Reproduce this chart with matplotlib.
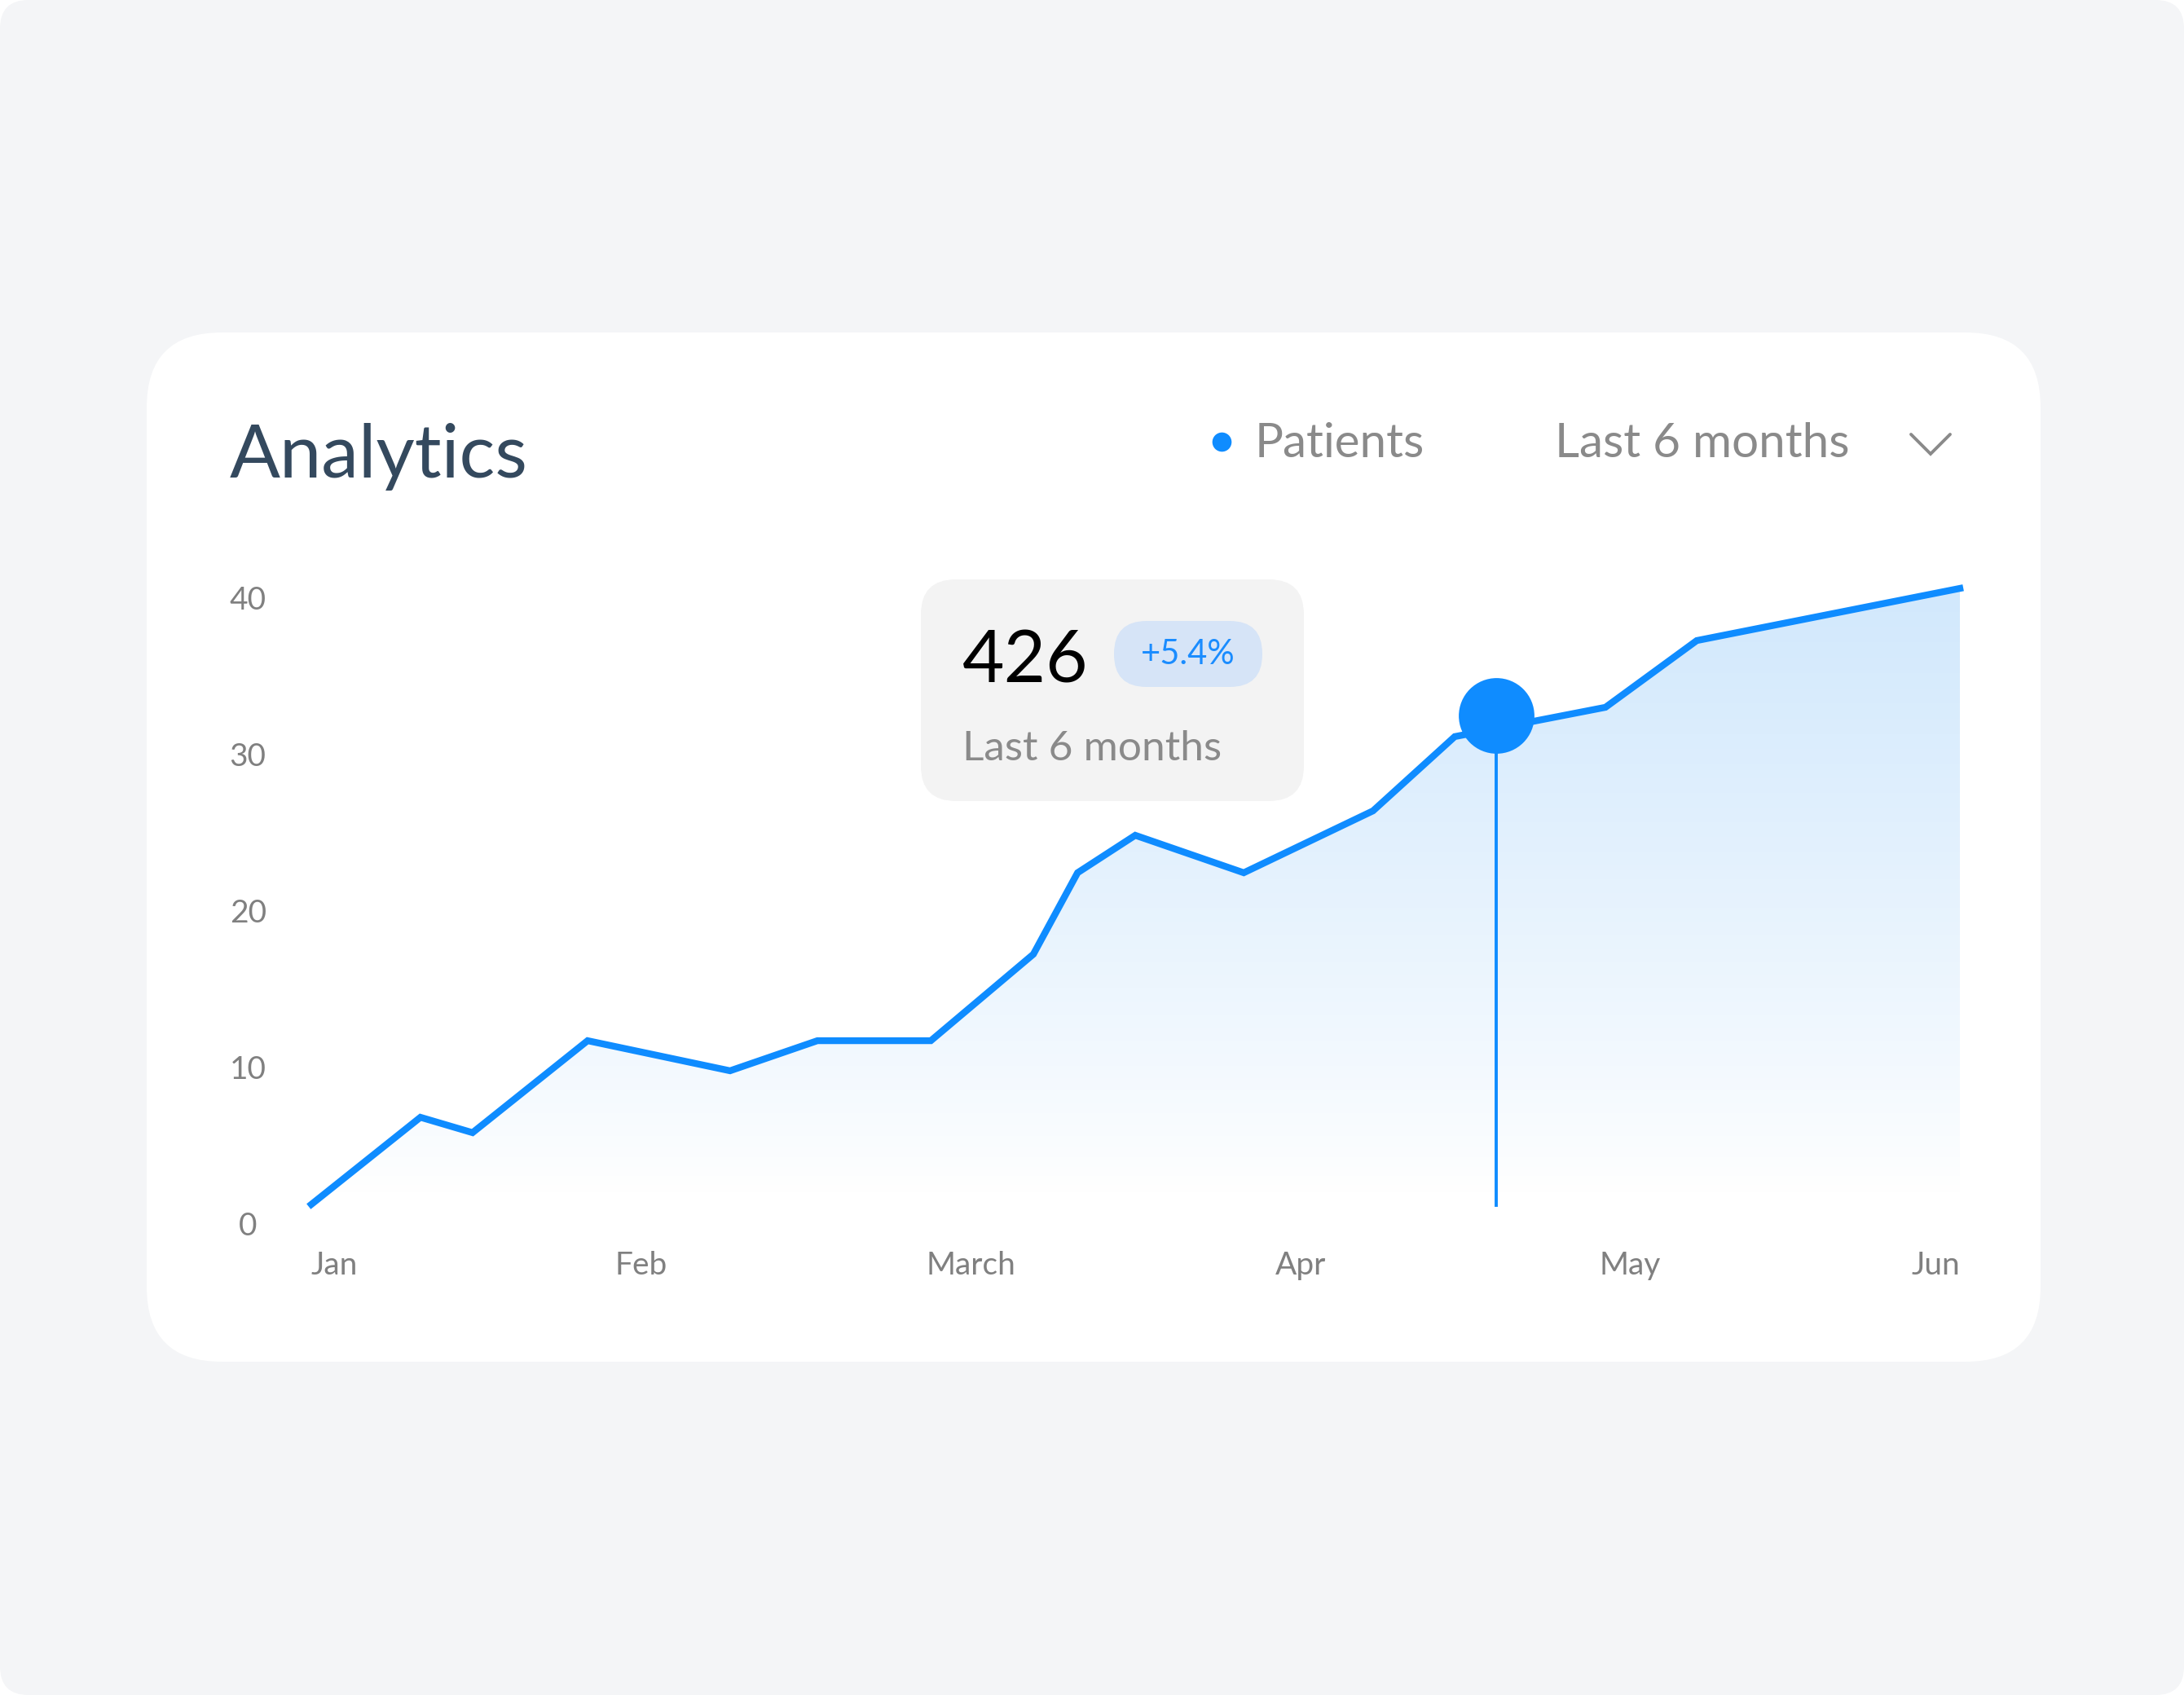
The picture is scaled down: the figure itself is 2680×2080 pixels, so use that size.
import numpy as np
import matplotlib
matplotlib.use('Agg')
import matplotlib.pyplot as plt
from matplotlib.patches import FancyBboxPatch, Polygon

plt.rcParams['font.family'] = ['Lato', 'DejaVu Sans']

# data (x in months from Jan, y in patients)
months = ['Jan', 'Feb', 'March', 'Apr', 'May', 'Jun']
x_vals = [0, 0.331, 0.489, 0.838, 1.270, 1.535, 1.879, 2.190, 2.324,
          2.499, 2.828, 3.220, 3.468, 3.925, 4.202, 5.0]
y_vals = [1.25, 6.81, 5.83, 11.70, 9.78, 11.70, 11.70, 17.22, 22.42,
          24.81, 22.42, 26.37, 31.11, 32.98, 37.24, 40.57]
y_ticks = [0, 10, 20, 30, 40]
hover_x = 3.594
hover_y = 32.46
floor_y = 1.2
total = '426'
change = '+5.4%'

W, H = 2680, 2080
fig = plt.figure(figsize=(W / 200, H / 200), dpi=200)
fig.patch.set_facecolor('white')

# background layer in pixel coordinates
bg = fig.add_axes([0, 0, 1, 1])
bg.set_xlim(0, W)
bg.set_ylim(H, 0)
bg.axis('off')
bg.add_patch(FancyBboxPatch((0, 0), W, H,
                            boxstyle='round,pad=0,rounding_size=35',
                            fc='#f4f5f7', ec='none'))
bg.add_patch(FancyBboxPatch((180, 408), 2324, 1263,
                            boxstyle='round,pad=0,rounding_size=92',
                            fc='white', ec='none'))

bg.text(282, 586, 'Analytics', fontsize=33, color='#34495e',
        ha='left', va='baseline')
bg.plot([1499], [542], 'o', ms=7.5, color='#0f8cff')
bg.text(1540, 561, 'Patients', fontsize=21, color='#8a8a8a',
        ha='left', va='baseline')
bg.text(1908, 561, 'Last 6 months', fontsize=21, color='#8a8a8a',
        ha='left', va='baseline')
bg.plot([2345, 2369, 2393], [533, 557, 533], color='#8a8a8a', lw=1.4,
        solid_capstyle='round', solid_joinstyle='miter')

# chart axes
x0, x1 = 382, 2405
px_per_unit = 19.225
ylo, yhi = 0, 42
ax_bottom = H - 1502
ax = fig.add_axes([x0 / W, ax_bottom / H, (x1 - x0) / W,
                   (yhi - ylo) * px_per_unit / H])
ax.set_xlim(0, 5)
ax.set_ylim(ylo, yhi)
ax.patch.set_alpha(0)
for s in ax.spines.values():
    s.set_visible(False)

# gradient fill under the line
xs = np.array(x_vals)
ys = np.array(y_vals)
verts = [(xs[0], floor_y)] + list(zip(xs, ys)) + [(xs[-1], floor_y)]
poly = Polygon(verts, closed=True, fc='none', ec='none')
ax.add_patch(poly)
grad = np.linspace(0, 1, 256)
top = np.array([0.82, 0.91, 0.99])
white = np.array([1.0, 1.0, 1.0])
t = np.clip((grad - 0.02) / 0.98, 0, 1) ** 0.85
img = white[None, :] * (1 - t)[:, None] + top[None, :] * t[:, None]
im = ax.imshow(img.reshape(256, 1, 3), extent=[0, 5, floor_y, 41],
               origin='lower', aspect='auto', zorder=1)
im.set_clip_path(poly)

ax.plot(xs, ys, color='#0f8cff', lw=3.0, zorder=3,
        solid_joinstyle='miter', clip_on=False)
ax.plot([hover_x, hover_x], [floor_y, hover_y], color='#0f8cff', lw=1.4,
        zorder=4)
ax.plot([hover_x], [hover_y], 'o', ms=32.4, color='#0f8cff', zorder=5,
        clip_on=False)

ax.set_yticks(y_ticks)
ax.set_yticklabels([str(v) for v in y_ticks])
ax.set_xticks(range(len(months)))
ax.set_xticklabels(months)
ax.tick_params(length=0, labelsize=14, colors='#808080')
ax.tick_params(axis='y', pad=28)
ax.tick_params(axis='x', pad=12)
for lab in ax.get_yticklabels():
    lab.set_ha('center')
xl = ax.get_xticklabels()
xl[0].set_ha('left')
xl[-1].set_ha('right')

# tooltip layer on top
top_ax = fig.add_axes([0, 0, 1, 1])
top_ax.set_xlim(0, W)
top_ax.set_ylim(H, 0)
top_ax.axis('off')
top_ax.patch.set_alpha(0)
top_ax.add_patch(FancyBboxPatch((1130, 711), 470, 272,
                                boxstyle='round,pad=0,rounding_size=43',
                                fc='#f3f3f3', ec='none'))
top_ax.add_patch(FancyBboxPatch((1367, 762), 182, 81,
                                boxstyle='round,pad=0,rounding_size=40',
                                fc='#d6e4f7', ec='none'))
top_ax.text(1181, 837, total, fontsize=32, color='black',
            ha='left', va='baseline')
top_ax.text(1458, 803, change, fontsize=15, color='#1a8cff',
            ha='center', va='center')
top_ax.text(1181, 933, 'Last 6 months', fontsize=18.5, color='#8a8a8a',
            ha='left', va='baseline')

fig.savefig('out.png', dpi=200, facecolor='white')
